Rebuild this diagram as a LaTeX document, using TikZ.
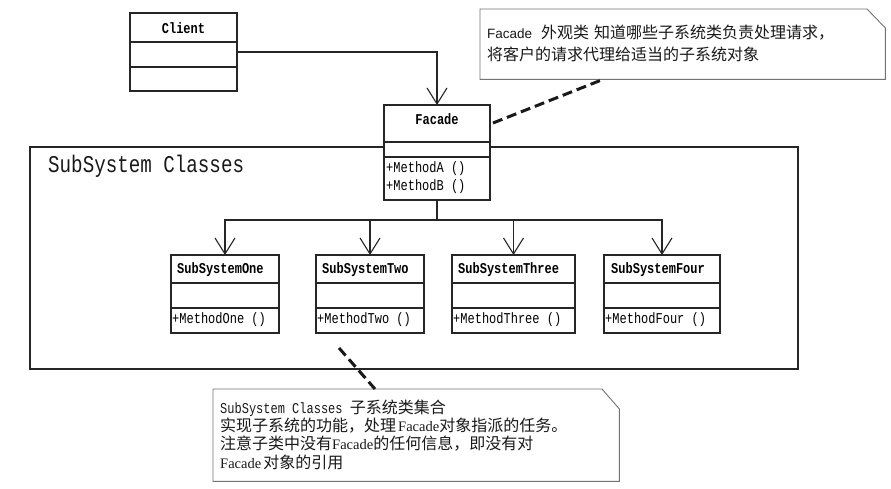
\documentclass[tikz,border=0pt]{standalone}
\usepackage{fontspec}
\setmainfont{Liberation Serif}
\newfontfamily\cjk{Noto Sans CJK SC}
\newfontfamily\lsans{Liberation Sans}
\newfontfamily\cmono[FakeStretch=0.8]{Liberation Mono}
\usetikzlibrary{arrows.meta,calc}
\begin{document}
\begin{tikzpicture}[x=1pt,y=-1pt,
  umlbox/.style={draw=black!85, line width=1.2pt, fill=white, anchor=north west, inner sep=0pt, outer sep=0pt},
  divider/.style={draw=black!85, line width=1.1pt},
  clsname/.style={font=\cmono\bfseries\fontsize{15}{15}\selectfont, inner sep=0pt, text=black},
  clsnamel/.style={clsname, anchor=west},
  clsop/.style={font=\cmono\fontsize{15}{15}\selectfont, inner sep=0pt, anchor=west, text=black},
  assoc/.style={draw=black!85, line width=1.1pt, -{Straight Barb[length=16pt,width=20pt]}},
  noteline/.style={draw=black!55, line width=0.9pt},
  notelink/.style={draw=black!90, line width=3pt, dash pattern=on 10pt off 5pt},
  notetext/.style={anchor=west, inner sep=0pt, text=black!90},
]
\useasboundingbox (0,0) rectangle (891,488);
\fill[white] (0,0) rectangle (891,488);

% subsystem frame
\node[umlbox, line width=1.3pt, fill=none, minimum width=768pt, minimum height=222pt] (frame) at (30,147) {};
\node[anchor=base west, inner sep=0pt, font=\cmono\fontsize{24}{24}\selectfont, text=black!90] (framelabel) at (48,172) {SubSystem Classes};

% client
\node[umlbox, minimum width=107pt, minimum height=78pt] (client) at (130,13) {};
\draw[divider] (130,42) -- (237,42) (130,67) -- (237,67);
\node[clsname] (clientname) at (183.5,28) {Client};

% facade
\node[umlbox, minimum width=106pt, minimum height=95pt] (facade) at (384,105) {};
\draw[divider] (384,142) -- (490,142) (384,157) -- (490,157);
\node[clsname] (facadename) at (437,119) {Facade};
\node[clsop] (facadema) at (386,169) {+MethodA ()};
\node[clsop] (facademb) at (386,187) {+MethodB ()};

% subsystems
\node[umlbox, minimum width=108pt, minimum height=78pt] (one) at (171,255) {};
\node[umlbox, minimum width=108pt, minimum height=78pt] (two) at (316,255) {};
\node[umlbox, minimum width=123pt, minimum height=78pt] (three) at (452,255) {};
\node[umlbox, minimum width=116pt, minimum height=78pt] (four) at (604,255) {};
\draw[divider] (171,283) -- (279,283) (171,308) -- (279,308);
\draw[divider] (316,283) -- (424,283) (316,308) -- (424,308);
\draw[divider] (452,283) -- (575,283) (452,308) -- (575,308);
\draw[divider] (604,283) -- (720,283) (604,308) -- (720,308);
\node[clsnamel] (onename) at (177,270) {SubSystemOne};
\node[clsnamel] (twoname) at (322,270) {SubSystemTwo};
\node[clsnamel] (threename) at (458,270) {SubSystemThree};
\node[clsnamel] (fourname) at (611,270) {SubSystemFour};
\node[clsop] (oneop) at (172,320) {+MethodOne ()};
\node[clsop] (twoop) at (317,320) {+MethodTwo ()};
\node[clsop] (threeop) at (453,320) {+MethodThree ()};
\node[clsop] (fourop) at (605,320) {+MethodFour ()};

% associations
\draw[assoc] (client.east) -| (facade.north);
\draw[assoc] (facade.south) -- ++(0,20) -| (one.north);
\draw[assoc] (facade.south) -- ++(0,20) -| (two.north);
\draw[assoc] (facade.south) -- ++(0,20) -| (three.north);
\draw[assoc] (facade.south) -- ++(0,20) -| (four.north);

% top note
\node[anchor=north west, inner sep=0pt, minimum width=405pt, minimum height=70pt] (topnote) at (480,9) {};
\draw[noteline, fill=white] (topnote.north west) -- ++(387,0) -- ($(topnote.north east)+(0,19)$) -- (topnote.south east) -- (topnote.south west) -- cycle;
\node[notetext, font=\lsans\fontsize{13.5}{14}\selectfont] (topline1) at (487,33) {Facade\hspace{9pt}{\cjk\fontsize{16}{16}\selectfont 外观类\hspace{5pt}知道哪些子系统类负责处理请求，}};
\node[notetext, font=\cjk\fontsize{16}{16}\selectfont] (topline2) at (487,54) {将客户的请求代理给适当的子系统对象};

% bottom note
\node[anchor=north west, inner sep=0pt, minimum width=406pt, minimum height=92pt] (botnote) at (213,389) {};
\draw[noteline, fill=white] (botnote.north west) -- ++(389,0) -- ($(botnote.north east)+(0,20)$) -- (botnote.south east) -- (botnote.south west) -- cycle;
\node[notetext] (botline1) at (220,408) {\cmono\fontsize{15}{15}\selectfont SubSystem Classes {\cjk\fontsize{16}{16}\selectfont 子系统类集合}};
\node[notetext] (botline2) at (220,426) {{\cjk\fontsize{16}{16}\selectfont 实现子系统的功能，处理}\hspace{2pt}{\fontsize{14.5}{14.5}\selectfont Facade}{\cjk\fontsize{16}{16}\selectfont 对象指派的任务。}};
\node[notetext] (botline3) at (220,444) {{\cjk\fontsize{16}{16}\selectfont 注意子类中没有}{\fontsize{14.5}{14.5}\selectfont Facade}{\cjk\fontsize{16}{16}\selectfont 的任何信息，即没有对}};
\node[notetext] (botline4) at (220,462) {{\fontsize{14.5}{14.5}\selectfont Facade}\hspace{2pt}{\cjk\fontsize{16}{16}\selectfont 对象的引用}};

% note links
\coordinate (facadelinkend) at ($(facade.north east)+(3,18)$);
\draw[notelink] (facadelinkend) -- ($(topnote.south west)+(123,0)$);
\coordinate (sublinkend) at (339,348);
\draw[notelink] (sublinkend) -- ($(botnote.north west)+(162,0)$);
\end{tikzpicture}
\end{document}
